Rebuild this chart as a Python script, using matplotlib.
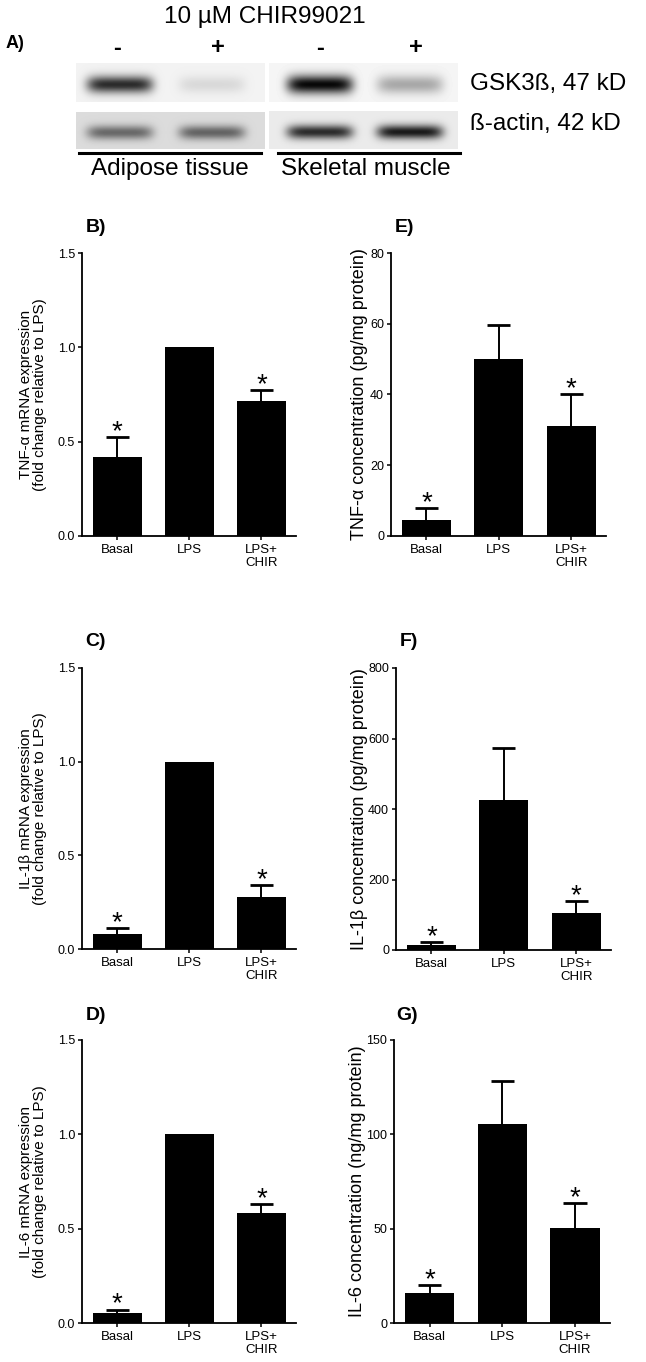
import numpy as np
import matplotlib
matplotlib.use('Agg')
import matplotlib.pyplot as plt

plt.rcParams['font.family'] = ['Liberation Sans', 'DejaVu Sans']

# ---- data ----
groups = ['Basal', 'LPS', 'LPS+\nCHIR']
signif = [True, False, True]

tnf_mrna = [0.42, 1.00, 0.715]
tnf_mrna_err = [0.105, 0.0, 0.06]
il1b_mrna = [0.078, 1.00, 0.28]
il1b_mrna_err = [0.035, 0.0, 0.062]
il6_mrna = [0.053, 1.00, 0.583]
il6_mrna_err = [0.018, 0.0, 0.048]

tnf_conc = [4.6, 50.0, 31.2]
tnf_conc_err = [3.4, 9.6, 8.9]
il1b_conc = [14, 425, 104]
il1b_conc_err = [8, 149, 36]
il6_conc = [16.1, 105.7, 50.6]
il6_conc_err = [3.9, 22.4, 13.2]

mrna_ticks = [0.0, 0.5, 1.0, 1.5]
tnf_ticks = [0, 20, 40, 60, 80]
il1b_ticks = [0, 200, 400, 600, 800]
il6_ticks = [0, 50, 100, 150]

# western blot band darkness (0 = none, 1 = black), lanes: AT -, AT +, SM -, SM +
gsk_dark = [0.78, 0.10, 0.93, 0.30]
actin_dark = [0.45, 0.47, 0.75, 0.82]
lane_labels = ['-', '+', '-', '+']

W, H = 646, 1362
fig = plt.figure(figsize=(W / 100, H / 100), dpi=100)


def px_axes(x0, y0, x1, y1):
    # axes from pixel box (top-left origin)
    return fig.add_axes([x0 / W, 1 - y1 / H, (x1 - x0) / W, (y1 - y0) / H])


# ---- panel A: blot ----
top = px_axes(0, 0, W, 190)
lane_x = [120, 212, 320, 410]


def blot_strip(x0, x1, y0, y1, bg, lanes, darks, sig):
    xx = np.arange(int(x1 - x0)) + x0 + 0.5
    yy = np.arange(int(y1 - y0)) + y0 + 0.5
    img = np.full((len(yy), len(xx)), bg)
    yc = (y0 + y1) / 2 + 2
    for c, d in zip(lanes, darks):
        px = np.exp(-((xx - c) / 33.0) ** 6)
        py = np.exp(-0.5 * ((yy - yc) / sig) ** 2)
        img -= d * np.outer(py, px)
    top.imshow(np.clip(img, 0, 1), cmap='gray', vmin=0, vmax=1,
               extent=(x0, x1, y1, y0), aspect='auto', interpolation='bilinear')


blot_strip(76, 265, 63, 102, 0.95, lane_x[:2], gsk_dark[:2], 6)
blot_strip(269, 458, 63, 102, 0.96, lane_x[2:], gsk_dark[2:], 6.5)
blot_strip(76, 265, 112, 149, 0.86, lane_x[:2], actin_dark[:2], 5)
blot_strip(269, 458, 111, 149, 0.92, lane_x[2:], actin_dark[2:], 5)

top.plot([79, 261], [153, 153], color='k', lw=2.2)
top.plot([278, 460], [153, 153], color='k', lw=2.2)
top.text(265, 17, '10 µM CHIR99021', fontsize=17.5, ha='center', va='center')
top.text(15, 43, 'A)', fontsize=13, fontweight='bold', ha='center', va='center')
for x, s in zip([117, 218, 320, 416], lane_labels):
    top.text(x, 48, s, fontsize=17, fontweight='bold', ha='center', va='center')
top.text(470, 84, 'GSK3ß, 47 kD', fontsize=17.5, ha='left', va='center')
top.text(470, 124, 'ß-actin, 42 kD', fontsize=17.5, ha='left', va='center')
top.text(170, 169, 'Adipose tissue', fontsize=17.5, ha='center', va='center')
top.text(366, 169, 'Skeletal muscle', fontsize=17.5, ha='center', va='center')
top.set_xlim(0, W)
top.set_ylim(190, 0)
top.axis('off')


# ---- bar panels ----
def bar_panel(box, vals, errs, ticks, fmt, ylabel, lab_x, lsize, letter, letter_xy):
    ax = px_axes(*box)
    x = np.arange(len(groups))
    ax.bar(x, vals, width=0.68, color='k', zorder=2)
    for i in range(len(vals)):
        hi = vals[i] + errs[i]
        if errs[i] > 0:
            # upper-only error bar with a cap
            ax.vlines(x[i], vals[i], hi, color='k', lw=1.4, zorder=3)
            ax.hlines(hi, x[i] - 0.16, x[i] + 0.16, color='k', lw=2.0, zorder=3)
        if signif[i]:
            ax.annotate('*', (x[i], hi), xytext=(0, -1.5),
                        textcoords='offset points', ha='center', va='baseline',
                        fontsize=20)
    ax.set_xlim(-0.49, 2.48)
    ax.set_ylim(ticks[0], ticks[-1])
    ax.set_yticks(ticks)
    ax.set_yticklabels([fmt % t for t in ticks])
    ax.set_xticks(x)
    ax.set_xticklabels(groups, linespacing=1.05)
    for s in ['top', 'right']:
        ax.spines[s].set_visible(False)
    for s in ['left', 'bottom']:
        ax.spines[s].set_linewidth(1.3)
    ax.tick_params(direction='out', length=3, width=1.1, pad=2)
    ax.tick_params(axis='x', labelsize=9.5, pad=3)
    ax.tick_params(axis='y', labelsize=9)
    yc = 1 - (box[1] + box[3]) / 2 / H
    fig.text(lab_x / W, yc, ylabel, rotation=90, ha='center', va='center',
             fontsize=lsize, multialignment='center', linespacing=1.0)
    fig.text(letter_xy[0] / W, 1 - letter_xy[1] / H, letter, fontsize=14,
             fontweight='bold', ha='center', va='center')
    return ax


bar_panel((82, 253, 296, 536), tnf_mrna, tnf_mrna_err, mrna_ticks, '%.1f',
          'TNF-α mRNA expression\n(fold change relative to LPS)', 33, 11, 'B)', (96, 228))
bar_panel((82, 668, 296, 949), il1b_mrna, il1b_mrna_err, mrna_ticks, '%.1f',
          'IL-1β mRNA expression\n(fold change relative to LPS)', 33, 11, 'C)', (96, 642))
bar_panel((82, 1040, 296, 1323), il6_mrna, il6_mrna_err, mrna_ticks, '%.1f',
          'IL-6 mRNA expression\n(fold change relative to LPS)', 33, 11, 'D)', (96, 1015))

bar_panel((391, 253, 606, 536), tnf_conc, tnf_conc_err, tnf_ticks, '%d',
          'TNF-α concentration (pg/mg protein)', 359, 13, 'E)', (404, 228))
bar_panel((396, 668, 611, 950), il1b_conc, il1b_conc_err, il1b_ticks, '%d',
          'IL-1β concentration (pg/mg protein)', 359, 13, 'F)', (409, 642))
bar_panel((394, 1040, 610, 1323), il6_conc, il6_conc_err, il6_ticks, '%d',
          'IL-6 concentration (ng/mg protein)', 357, 13, 'G)', (407, 1015))

fig.savefig('out.png', dpi=100)
